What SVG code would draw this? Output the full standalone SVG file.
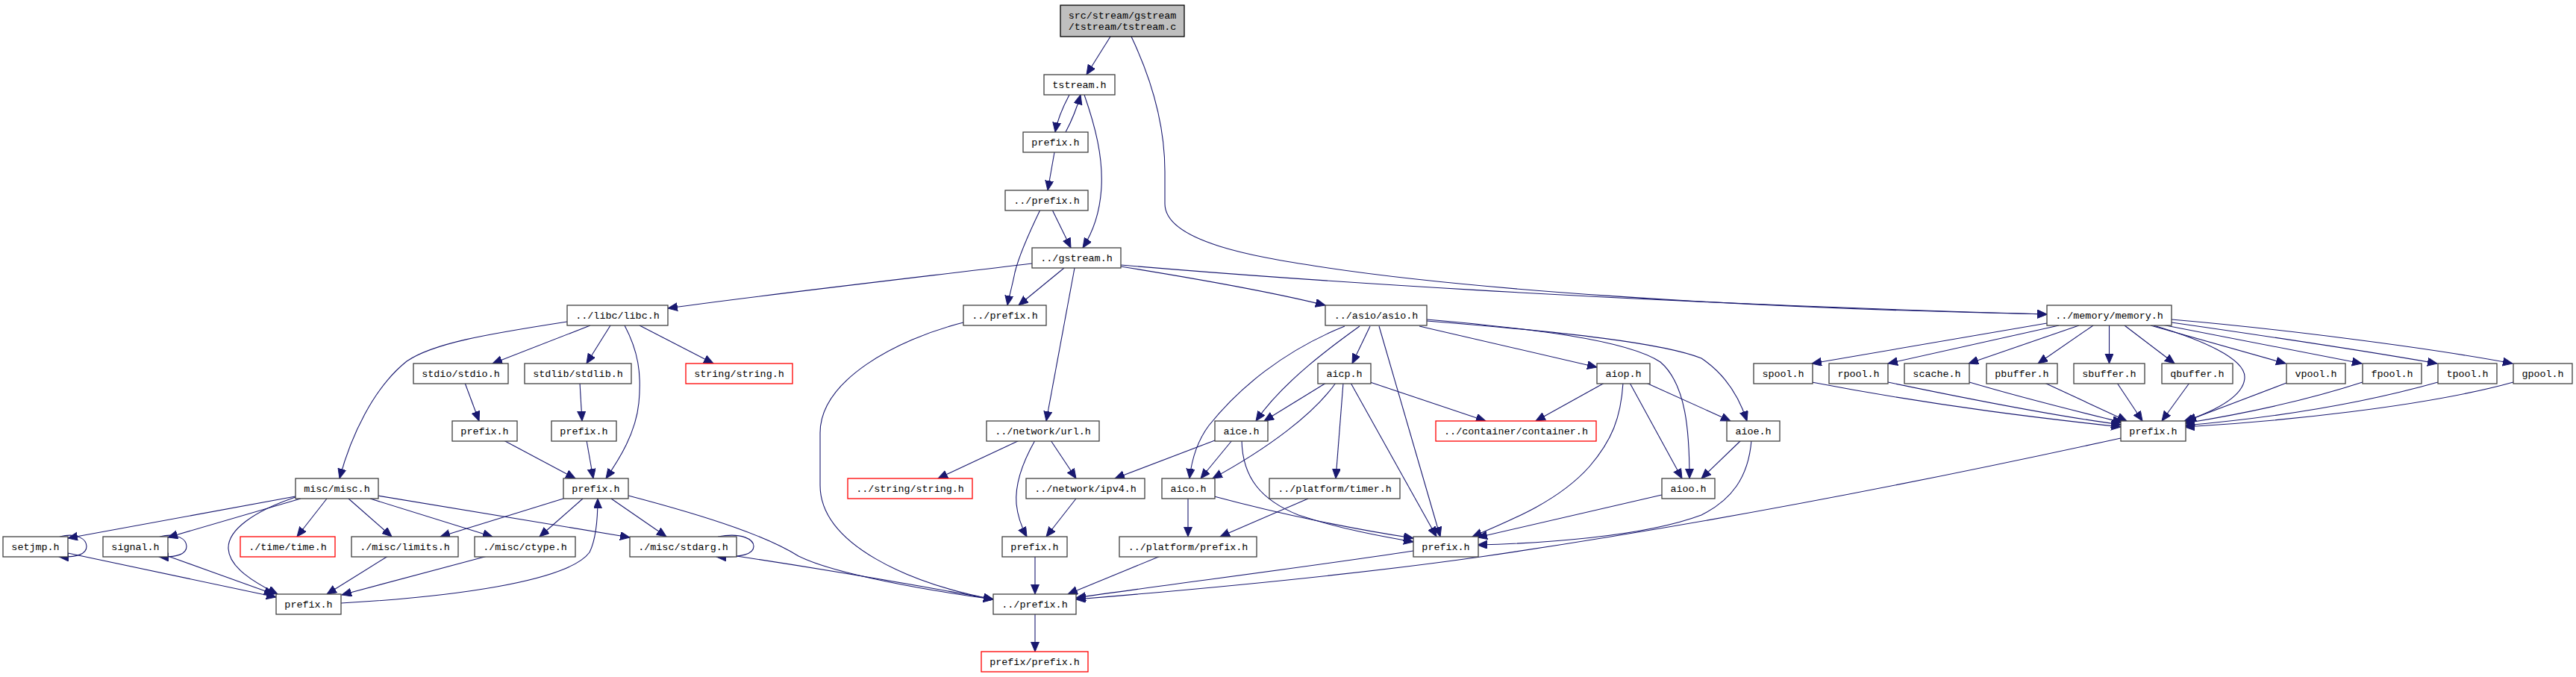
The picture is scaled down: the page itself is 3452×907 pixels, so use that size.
<svg xmlns="http://www.w3.org/2000/svg" width="3452" height="907" viewBox="0 0 3452 907">
<defs>
<style>
.n rect{fill:#fff;stroke:#404040;stroke-width:1.3}
.r rect{fill:#fff;stroke:#ff0000;stroke-width:1.3}
.t rect{fill:#bfbfbf;stroke:#000;stroke-width:1.3}
text{font-family:"Liberation Mono","DejaVu Sans Mono",monospace;font-size:13.4px;text-anchor:middle;fill:#000}
#edges path{fill:none;stroke:#191970;stroke-width:1.1;marker-end:url(#a)}
</style>
<marker id="a" markerUnits="userSpaceOnUse" markerWidth="14" markerHeight="12" refX="13" refY="5.5" orient="auto"><path d="M0,0 L13,5.5 L0,11 z" fill="#191970" stroke="#191970" stroke-width="1"/></marker>
</defs>
<rect width="3452" height="907" fill="#fff"/>
<g id="edges">
<path d="M1488,49 L1456,100"/>
<path d="M1516,49 C1545,110 1561,170 1561,230 L1561,273 C1561,325 1690,345 1760,356 C1950,386 2300,412 2743,421"/>
<path d="M1502,355 C1700,372 2150,405 2743,421"/>
<path d="M1502,357 C1620,376 1720,395 1776,409"/>
<path d="M1383,353 C1200,375 1000,398 895,413"/>
<path d="M1426,359 L1365,409"/>
<path d="M1440,359 L1402,564"/>
<path d="M1433,127 C1424,144 1417,160 1414,177"/>
<path d="M1428,177 C1436,162 1443,145 1448,127"/>
<path d="M1453,127 C1468,170 1478,210 1476,250 C1474,290 1462,315 1451,332"/>
<path d="M1413,204 L1404,255"/>
<path d="M1410,281 L1435,332"/>
<path d="M1394,281 C1380,310 1366,340 1360,365 C1356,385 1352,398 1350,409"/>
<path d="M1291,432 C1200,455 1099,510 1099,580 L1099,650 C1099,730 1220,782 1331,803"/>
<path d="M760,431 C650,448 580,460 545,484 C500,520 470,585 455,641"/>
<path d="M791,436 L660,487"/>
<path d="M818,436 L786,487"/>
<path d="M837,436 C855,470 860,500 856,540 C852,580 830,615 812,641"/>
<path d="M857,436 L956,487"/>
<path d="M623,513 L642,564"/>
<path d="M777,513 L780,564"/>
<path d="M675,590 L771,641"/>
<path d="M786,590 L795,641"/>
<path d="M755,668 L590,719"/>
<path d="M781,668 L723,719"/>
<path d="M819,668 L893,719"/>
<path d="M842,664 C960,695 1030,720 1070,745 C1120,770 1250,792 1331,803"/>
<path d="M457,808 C600,800 760,780 790,740 C800,720 801,690 801,668"/>
<path d="M396,665 L91,721"/>
<path d="M403,668 L225,720"/>
<path d="M396,666 C340,685 305,710 306,735 C307,760 340,780 372,796"/>
<path d="M438,668 L398,719"/>
<path d="M467,668 L525,719"/>
<path d="M496,668 L660,719"/>
<path d="M506,664 L844,720"/>
<path d="M80,719 C104,713 116,723 116,732 C116,742 104,747 79,746"/>
<path d="M214,719 C238,713 250,723 250,732 C250,742 238,747 213,746"/>
<path d="M962,719 C995,713 1010,723 1010,732 C1010,742 995,747 960,746"/>
<path d="M91,741 L370,800"/>
<path d="M225,745 L367,796"/>
<path d="M520,745 L438,796"/>
<path d="M653,745 L458,797"/>
<path d="M987,745 C1100,762 1250,788 1331,803"/>
<path d="M1366,590 L1257,641"/>
<path d="M1408,590 L1442,641"/>
<path d="M1387,590 C1370,620 1360,650 1362,675 C1364,695 1370,708 1376,719"/>
<path d="M1442,668 L1402,719"/>
<path d="M1387,745 L1387,796"/>
<path d="M1387,822 L1387,873"/>
<path d="M1628,590 L1494,641"/>
<path d="M1651,590 L1609,641"/>
<path d="M1664,590 C1665,640 1690,670 1740,690 C1800,710 1860,720 1894,726"/>
<path d="M1592,668 L1592,719"/>
<path d="M1627,665 C1720,690 1820,710 1894,721"/>
<path d="M1753,668 L1635,719"/>
<path d="M1555,745 L1431,796"/>
<path d="M1894,738 C1750,760 1550,785 1442,801"/>
<path d="M2842,587 C2600,640 2300,700 1984,746 C1800,772 1600,790 1442,803"/>
<path d="M1802,437 C1720,470 1660,520 1620,570 C1605,590 1597,615 1594,641"/>
<path d="M1822,437 C1790,460 1720,510 1683,564"/>
<path d="M1836,437 L1812,487"/>
<path d="M1848,437 L1930,719"/>
<path d="M1902,437 L2140,492"/>
<path d="M1912,428 C2050,440 2180,455 2225,485 C2260,515 2264,580 2264,641"/>
<path d="M1912,430 C2100,445 2230,460 2280,480 C2310,500 2330,530 2341,564"/>
<path d="M1777,513 L1694,564"/>
<path d="M1790,513 C1760,555 1700,600 1625,641"/>
<path d="M1800,513 L1790,641"/>
<path d="M1810,513 L1925,719"/>
<path d="M1836,512 L1991,564"/>
<path d="M2150,513 L2058,564"/>
<path d="M2175,513 C2172,560 2160,590 2130,625 C2090,670 2030,695 1973,719"/>
<path d="M2184,513 L2254,641"/>
<path d="M2206,513 L2319,564"/>
<path d="M2333,590 L2280,641"/>
<path d="M2347,590 C2343,640 2320,670 2280,690 C2200,720 2060,728 1980,730"/>
<path d="M2227,663 L1980,720"/>
<path d="M2743,433 L2428,487"/>
<path d="M2759,436 L2530,487"/>
<path d="M2786,436 L2638,487"/>
<path d="M2805,436 L2731,487"/>
<path d="M2826.5,436 L2826.5,487"/>
<path d="M2847,436 L2914,487"/>
<path d="M2886,436 C2950,455 3008,480 3008,505 C3008,530 2970,550 2926,565"/>
<path d="M2882,436 L3063,487"/>
<path d="M2897,435 L3165,487"/>
<path d="M2910,432 C3050,452 3180,472 3266,487"/>
<path d="M2910,428 C3050,440 3250,465 3367,487"/>
<path d="M2428,512 C2600,545 2750,562 2842,572"/>
<path d="M2530,512 C2650,537 2760,558 2842,569"/>
<path d="M2639,512 C2720,536 2800,555 2844,566"/>
<path d="M2740,513 L2850,564"/>
<path d="M2837,513 L2871,564"/>
<path d="M2934,513 L2897,564"/>
<path d="M3064,513 L2930,564"/>
<path d="M3166,512 C3080,540 2990,557 2928,567"/>
<path d="M3267,512 C3150,545 3020,562 2928,570"/>
<path d="M3368,512 C3250,545 3050,565 2928,572"/>
</g>
<g id="n_top" class="t"><rect x="1421" y="7" width="166" height="42"/><text x="1504" y="24.5">src/stream/gstream</text><text x="1504" y="40">/tstream/tstream.c</text></g>
<g id="n_tstream" class="n"><rect x="1399" y="100" width="95" height="27"/><text x="1446.5" y="118">tstream.h</text></g>
<g id="n_prefix_a" class="n"><rect x="1371" y="177" width="87" height="27"/><text x="1414.5" y="195">prefix.h</text></g>
<g id="n_dprefix_a" class="n"><rect x="1347" y="255" width="111" height="27"/><text x="1402.5" y="273">../prefix.h</text></g>
<g id="n_gstream" class="n"><rect x="1383" y="332" width="119" height="27"/><text x="1442.5" y="350">../gstream.h</text></g>
<g id="n_libc" class="n"><rect x="760" y="409" width="135" height="27"/><text x="827.5" y="427">../libc/libc.h</text></g>
<g id="n_dprefix_b" class="n"><rect x="1291" y="409" width="111" height="27"/><text x="1346.5" y="427">../prefix.h</text></g>
<g id="n_asio" class="n"><rect x="1776" y="409" width="136" height="27"/><text x="1844" y="427">../asio/asio.h</text></g>
<g id="n_memory" class="n"><rect x="2743" y="409" width="167" height="27"/><text x="2826.5" y="427">../memory/memory.h</text></g>
<g id="n_stdio" class="n"><rect x="554" y="487" width="127" height="27"/><text x="617.5" y="505">stdio/stdio.h</text></g>
<g id="n_stdlib" class="n"><rect x="703" y="487" width="143" height="27"/><text x="774.5" y="505">stdlib/stdlib.h</text></g>
<g id="n_string" class="r"><rect x="919" y="487" width="143" height="27"/><text x="990.5" y="505">string/string.h</text></g>
<g id="n_aicp" class="n"><rect x="1766" y="487" width="71" height="27"/><text x="1801.5" y="505">aicp.h</text></g>
<g id="n_aiop" class="n"><rect x="2140" y="487" width="71" height="27"/><text x="2175.5" y="505">aiop.h</text></g>
<g id="n_spool" class="n"><rect x="2350" y="487" width="79" height="27"/><text x="2389.5" y="505">spool.h</text></g>
<g id="n_rpool" class="n"><rect x="2451" y="487" width="79" height="27"/><text x="2490.5" y="505">rpool.h</text></g>
<g id="n_scache" class="n"><rect x="2552" y="487" width="87" height="27"/><text x="2595.5" y="505">scache.h</text></g>
<g id="n_pbuffer" class="n"><rect x="2662" y="487" width="95" height="27"/><text x="2709.5" y="505">pbuffer.h</text></g>
<g id="n_sbuffer" class="n"><rect x="2779" y="487" width="95" height="27"/><text x="2826.5" y="505">sbuffer.h</text></g>
<g id="n_qbuffer" class="n"><rect x="2897" y="487" width="95" height="27"/><text x="2944.5" y="505">qbuffer.h</text></g>
<g id="n_vpool" class="n"><rect x="3064" y="487" width="79" height="27"/><text x="3103.5" y="505">vpool.h</text></g>
<g id="n_fpool" class="n"><rect x="3166" y="487" width="79" height="27"/><text x="3205.5" y="505">fpool.h</text></g>
<g id="n_tpool" class="n"><rect x="3267" y="487" width="79" height="27"/><text x="3306.5" y="505">tpool.h</text></g>
<g id="n_gpool" class="n"><rect x="3368" y="487" width="79" height="27"/><text x="3407.5" y="505">gpool.h</text></g>
<g id="n_prefix_stdio" class="n"><rect x="606" y="564" width="87" height="27"/><text x="649.5" y="582">prefix.h</text></g>
<g id="n_prefix_stdlib" class="n"><rect x="739" y="564" width="87" height="27"/><text x="782.5" y="582">prefix.h</text></g>
<g id="n_url" class="n"><rect x="1322" y="564" width="151" height="27"/><text x="1397.5" y="582">../network/url.h</text></g>
<g id="n_aice" class="n"><rect x="1628" y="564" width="71" height="27"/><text x="1663.5" y="582">aice.h</text></g>
<g id="n_container" class="r"><rect x="1924" y="564" width="215" height="27"/><text x="2031.5" y="582">../container/container.h</text></g>
<g id="n_aioe" class="n"><rect x="2314" y="564" width="71" height="27"/><text x="2349.5" y="582">aioe.h</text></g>
<g id="n_prefix_mem" class="n"><rect x="2842" y="564" width="87" height="27"/><text x="2885.5" y="582">prefix.h</text></g>
<g id="n_misc" class="n"><rect x="396" y="641" width="111" height="27"/><text x="451.5" y="659">misc/misc.h</text></g>
<g id="n_prefix_libc" class="n"><rect x="755" y="641" width="87" height="27"/><text x="798.5" y="659">prefix.h</text></g>
<g id="n_dstring" class="r"><rect x="1136" y="641" width="167" height="27"/><text x="1219.5" y="659">../string/string.h</text></g>
<g id="n_ipv4" class="n"><rect x="1375" y="641" width="159" height="27"/><text x="1454.5" y="659">../network/ipv4.h</text></g>
<g id="n_aico" class="n"><rect x="1557" y="641" width="71" height="27"/><text x="1592.5" y="659">aico.h</text></g>
<g id="n_timer" class="n"><rect x="1701" y="641" width="175" height="27"/><text x="1788.5" y="659">../platform/timer.h</text></g>
<g id="n_aioo" class="n"><rect x="2227" y="641" width="71" height="27"/><text x="2262.5" y="659">aioo.h</text></g>
<g id="n_setjmp" class="n"><rect x="4" y="719" width="87" height="27"/><text x="47.5" y="737">setjmp.h</text></g>
<g id="n_signal" class="n"><rect x="138" y="719" width="87" height="27"/><text x="181.5" y="737">signal.h</text></g>
<g id="n_time" class="r"><rect x="322" y="719" width="127" height="27"/><text x="385.5" y="737">./time/time.h</text></g>
<g id="n_limits" class="n"><rect x="471" y="719" width="143" height="27"/><text x="542.5" y="737">./misc/limits.h</text></g>
<g id="n_ctype" class="n"><rect x="636" y="719" width="135" height="27"/><text x="703.5" y="737">./misc/ctype.h</text></g>
<g id="n_stdarg" class="n"><rect x="844" y="719" width="143" height="27"/><text x="915.5" y="737">./misc/stdarg.h</text></g>
<g id="n_prefix_url" class="n"><rect x="1343" y="719" width="87" height="27"/><text x="1386.5" y="737">prefix.h</text></g>
<g id="n_platprefix" class="n"><rect x="1500" y="719" width="184" height="27"/><text x="1592" y="737">../platform/prefix.h</text></g>
<g id="n_prefix_asio" class="n"><rect x="1894" y="719" width="87" height="27"/><text x="1937.5" y="737">prefix.h</text></g>
<g id="n_prefix_misc" class="n"><rect x="370" y="796" width="87" height="27"/><text x="413.5" y="814">prefix.h</text></g>
<g id="n_dprefix_c" class="n"><rect x="1331" y="796" width="111" height="27"/><text x="1386.5" y="814">../prefix.h</text></g>
<g id="n_prefixprefix" class="r"><rect x="1315" y="873" width="143" height="27"/><text x="1386.5" y="891">prefix/prefix.h</text></g>
</svg>
